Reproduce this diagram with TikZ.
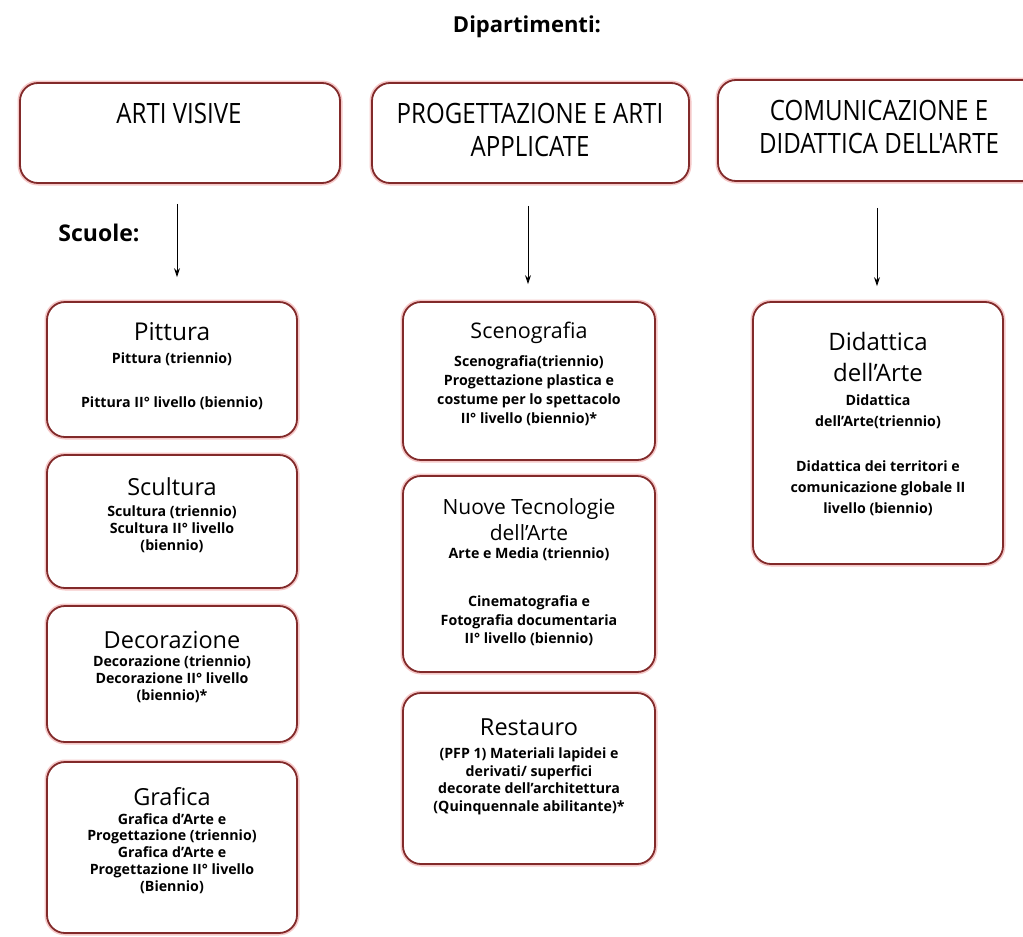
\documentclass[tikz,border=0pt]{standalone}
\usepackage{fontspec}
\setmainfont{Open Sans}
\newfontfamily\deptfont[FakeStretch=0.86]{Open Sans}
\usetikzlibrary{arrows.meta}
\definecolor{bord}{RGB}{130,42,42}
\definecolor{halo}{RGB}{245,200,200}
\begin{document}
\begin{tikzpicture}[x=1pt,y=-1pt,
 box/.style={draw=bord, line width=1.8pt, rounded corners=18pt, fill=white, preaction={draw=halo, line width=5pt}},
 school/.style={box, minimum width=250pt},
 dept/.style={box, minimum height=100pt},
 ttl/.style={font=\fontsize{23.5}{29}\selectfont, align=center, inner sep=0pt},
 sub/.style={font=\bfseries\fontsize{14.2}{17.5}\selectfont, align=center, inner sep=0pt, anchor=north},
 dtxt/.style={font=\deptfont\fontsize{28}{33}\selectfont, align=center, inner sep=0pt},
 lbl/.style={font=\bfseries\fontsize{22}{26}\selectfont, inner sep=0pt},
 arr/.style={-{Stealth[length=9pt,width=6pt]}, line width=0.9pt}
]
\useasboundingbox (0,0) rectangle (1023,937);
\clip (0,0) rectangle (1023,937);

\node[lbl] (dip) at (527,27) {Dipartimenti:};
\node[lbl, font=\bfseries\fontsize{23}{26}\selectfont] (scuole) at (99,233) {Scuole:};

% departments
\node[dept, minimum width=320pt] (av) at (180,133) {};
\node[dtxt] (avT) at (179,113) {ARTI VISIVE};
\node[dept, minimum width=317pt] (pa) at (530.5,133) {};
\node[dtxt] (paT) at (530,129.5) {PROGETTAZIONE E ARTI\\APPLICATE};
\node[dept, minimum width=322pt, minimum height=101pt] (cd) at (879,130.5) {};
\node[dtxt] (cdT) at (879,126.5) {COMUNICAZIONE E\\DIDATTICA DELL'ARTE};

% column 1
\node[school, minimum height=135pt] (pit) at (172,369.5) {};
\node[ttl, font=\fontsize{24.5}{29}\selectfont] (pitT) at (172,332) {Pittura};
\node[sub] (pitS) at (172,353) {Pittura (triennio)\\[26.5pt]Pittura II° livello (biennio)};

\node[school, minimum height=133pt] (scu) at (172,521.5) {};
\node[ttl] (scuT) at (172,487) {Scultura};
\node[sub, font=\bfseries\fontsize{14.2}{17}\selectfont] (scuS) at (172,506) {Scultura (triennio)\\Scultura II° livello\\(biennio)};

\node[school, minimum height=136pt] (dec) at (172,674) {};
\node[ttl] (decT) at (172,640) {Decorazione};
\node[sub, font=\bfseries\fontsize{14.2}{17}\selectfont] (decS) at (172,656) {Decorazione (triennio)\\Decorazione II° livello\\(biennio)*};

\node[school, minimum height=171pt] (gra) at (172,847.5) {};
\node[ttl] (graT) at (172,797) {Grafica};
\node[sub, font=\bfseries\fontsize{14.2}{16.8}\selectfont] (graS) at (172,813) {Grafica d'Arte e\\Progettazione (triennio)\\Grafica d'Arte e\\Progettazione II° livello\\(Biennio)};

% column 2
\node[school, minimum width=252pt, minimum height=158pt] (sce) at (529,381) {};
\node[ttl, font=\fontsize{21.5}{29}\selectfont] (sceT) at (529,333) {Scenografia};
\node[sub, font=\bfseries\fontsize{14.2}{19}\selectfont] (sceS) at (529,355) {Scenografia(triennio)\\Progettazione plastica e\\costume per lo spettacolo\\II° livello (biennio)*};

\node[school, minimum width=252pt, minimum height=196pt] (nuo) at (529,574) {};
\node[ttl, font=\fontsize{21}{26}\selectfont] (nuoT) at (529,520) {Nuove Tecnologie\\dell'Arte};
\node[sub, font=\bfseries\fontsize{14.2}{18.5}\selectfont] (nuoS) at (529,548) {Arte e Media (triennio)\\[29.5pt]Cinematografia e\\Fotografia documentaria\\II° livello (biennio)};

\node[school, minimum width=252pt, minimum height=171pt] (res) at (529,778.5) {};
\node[ttl] (resT) at (529,727) {Restauro};
\node[sub] (resS) at (529,748) {(PFP 1) Materiali lapidei e\\derivati/ superfici\\decorate dell'architettura\\(Quinquennale abilitante)*};

% column 3
\node[school, minimum height=262pt] (did) at (878,433) {};
\node[ttl, font=\fontsize{24}{31}\selectfont] (didT) at (878,356.5) {Didattica\\dell'Arte};
\node[sub, font=\bfseries\fontsize{14.2}{21}\selectfont] (didS) at (878,395) {Didattica\\dell'Arte(triennio)\\[24pt]Didattica dei territori e\\comunicazione globale II\\livello (biennio)};

% arrows
\draw[arr] ([shift={(-3,20)}]av.south) -- ([shift={(5,-24)}]pit.north);
\draw[arr] ([shift={(-2.5,22)}]pa.south) -- ([shift={(-1,-17)}]sce.north);
\draw[arr] ([shift={(-2,26)}]cd.south) -- ([shift={(-1,-15)}]did.north);
\end{tikzpicture}
\end{document}
